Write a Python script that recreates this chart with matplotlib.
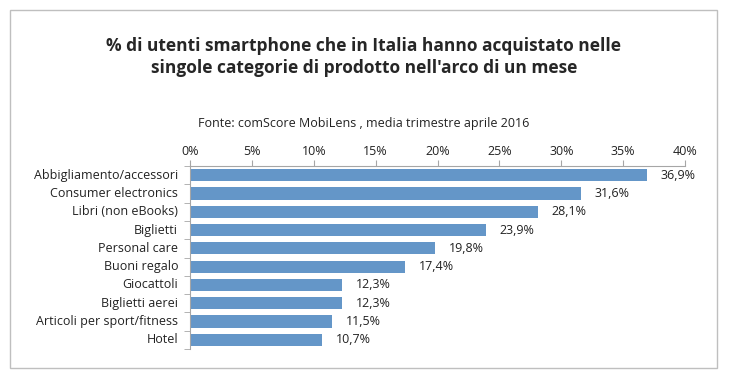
import matplotlib.pyplot as plt
import matplotlib.transforms as mtransforms
import numpy as np
from matplotlib.patches import Rectangle

categories = ["Abbigliamento/accessori", "Consumer electronics", "Libri (non eBooks)",
              "Biglietti", "Personal care", "Buoni regalo", "Giocattoli",
              "Biglietti aerei", "Articoli per sport/fitness", "Hotel"]
values = [36.9, 31.6, 28.1, 23.9, 19.8, 17.4, 12.3, 12.3, 11.5, 10.7]
xticks = [0, 5, 10, 15, 20, 25, 30, 35, 40]

plt.rcParams['font.family'] = ['Open Sans', 'DejaVu Sans']

W, H = 729, 374
fig = plt.figure(figsize=(W / 100, H / 100), dpi=100)
fig.patch.set_facecolor('white')

# outer frame
fig.patches.append(Rectangle((10 / W, 1 - 368 / H), 707 / W, 358 / H,
                             transform=fig.transFigure, fill=False,
                             edgecolor='#BFBFBF', linewidth=1))

ax = fig.add_axes([190 / W, 1 - 349 / H, 495 / W, 183 / H])
y = np.arange(len(categories))
ax.barh(y, values, height=0.67, color='#6496C8')
ax.set_ylim(len(categories) - 0.5, -0.5)
ax.set_xlim(0, 40)

for yi, v in zip(y, values):
    ax.text(v + 1.1, yi, f"{v:.1f}%".replace('.', ','), va='center', ha='left',
            fontsize=9, color='#222222')

ax.xaxis.tick_top()
ax.set_xticks(xticks)
ax.set_xticklabels([f"{t}%" for t in xticks], fontsize=9, color='#222222')
ax.tick_params(axis='x', length=4, color='#A6A6A6', pad=2)

# category labels drawn as plain text, right aligned against the axis
ax.set_yticks([])
lab_tr = mtransforms.blended_transform_factory(fig.transFigure, ax.transData)
for yi, c in zip(y, categories):
    ax.text(178 / W, yi, c, transform=lab_tr, ha='right', va='center',
            fontsize=9, color='#222222')
ax.set_yticks(np.arange(-0.5, len(categories) + 0.5, 1), minor=True)
ax.tick_params(axis='y', which='minor', length=4, color='#A6A6A6')

for s in ['right', 'bottom']:
    ax.spines[s].set_visible(False)
for s in ['top', 'left']:
    ax.spines[s].set_color('#A6A6A6')

fig.text(364 / W, 1 - 57 / H,
         "% di utenti smartphone che in Italia hanno acquistato nelle\n"
         "singole categorie di prodotto nell'arco di un mese",
         ha='center', va='center', fontsize=12.5, fontweight='bold',
         color='#262626', linespacing=1.35)
fig.text(364 / W, 1 - 123 / H, "Fonte: comScore MobiLens , media trimestre aprile 2016",
         ha='center', va='center', fontsize=9, color='#222222')

fig.savefig('out.png', dpi=100)
